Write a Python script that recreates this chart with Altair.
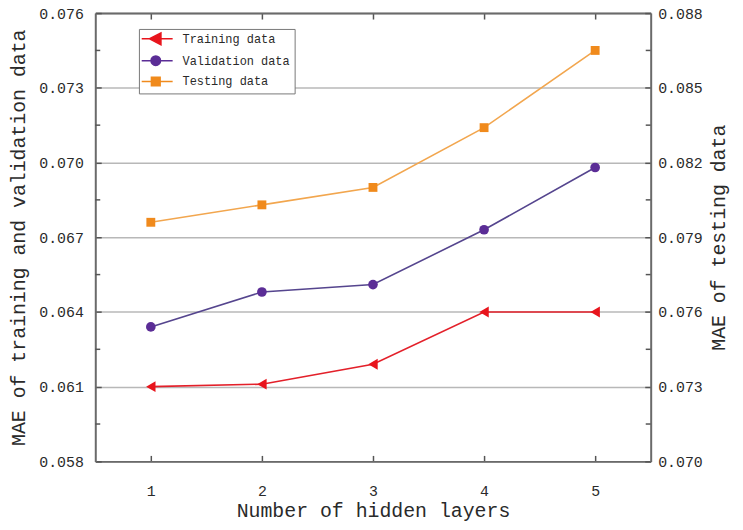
import altair as alt
import pandas as pd

# ---- data ----
hidden_layers = [1, 2, 3, 4, 5]
training = [0.0610, 0.0611, 0.0619, 0.0640, 0.0640]
validation = [0.0634, 0.0648, 0.0651, 0.0673, 0.0698]
testing = [0.0796, 0.0803, 0.0810, 0.0834, 0.0865]
series_names = ["Training data", "Validation data", "Testing data"]
left_ticks = [0.058, 0.061, 0.064, 0.067, 0.070, 0.073, 0.076]
right_ticks = [0.070, 0.073, 0.076, 0.079, 0.082, 0.085, 0.088]
minor_ticks = [0.0595, 0.0625, 0.0655, 0.0685, 0.0715, 0.0745]
x_ticks = [1, 2, 3, 4, 5]

# ---- styles ----
marker_colors = ["#e8141c", "#5b2d96", "#f08a1c"]
line_colors = ["#e3202a", "#55458e", "#f2a64e"]
W, H = 560, 452
FONT = "Liberation Mono"
AX = "#6a6a6a"
TICK = "#555555"
TXT = "#2a2a2a"

df_train = pd.DataFrame({"layers": hidden_layers, "mae": training})
df_val = pd.DataFrame({"layers": hidden_layers, "mae": validation})
df_test = pd.DataFrame({"layers": hidden_layers, "mae": testing})
df_minor = pd.DataFrame({"v": minor_ticks})
df_leg = pd.DataFrame({"series": series_names})

common_axis = dict(
    domainColor=AX, domainWidth=2, tickColor=TICK, tickWidth=1.5,
    tickSize=alt.ExprRef(expr="-6"),
    labelFont=FONT, labelFontSize=15, labelColor=TXT,
    titleFont=FONT, titleFontSize=20, titleColor=TXT, titleFontWeight="normal",
)

xscale = alt.Scale(domain=[0.5, 5.5], nice=False, zero=False)
x_bottom = alt.X("layers:Q", scale=xscale,
                 axis=alt.Axis(orient="bottom", values=x_ticks, format="d", grid=False,
                               title="Number of hidden layers", labelPadding=28,
                               titlePadding=3, **common_axis))
x_top = alt.X("layers:Q", scale=xscale,
              axis=alt.Axis(orient="top", values=x_ticks, grid=False, labels=False,
                            title=None, **common_axis))

lscale = alt.Scale(domain=[0.058, 0.076], nice=False, zero=False)
rscale = alt.Scale(domain=[0.070, 0.088], nice=False, zero=False)
left_axis = alt.Axis(orient="left", values=left_ticks, format=".3f", grid=True,
                     gridColor="#b8b8b8", gridWidth=1.5,
                     title="MAE of training and validation data",
                     labelPadding=18, titlePadding=10, **common_axis)
right_axis = alt.Axis(orient="right", values=right_ticks, format=".3f", grid=False,
                      title="MAE of testing data", titleAngle=270,
                      titleX=68, titleY=H / 2, titleAlign="center", titleBaseline="middle",
                      labelPadding=13, **common_axis)

y_left = alt.Y("mae:Q", scale=lscale, axis=left_axis)
y_right = alt.Y("mae:Q", scale=rscale, axis=right_axis)


def series(df, x, y, i, shape, size):
    line = alt.Chart(df).mark_line(color=line_colors[i], strokeWidth=1.6).encode(x=x, y=y)
    pts = alt.Chart(df).mark_point(filled=True, opacity=1, color=marker_colors[i],
                                   shape=shape, size=size).encode(x=x, y=y)
    return [line, pts]


minor_l = alt.Chart(df_minor).mark_rule(color=TICK, strokeWidth=1.5).encode(
    y=alt.Y("v:Q", scale=lscale, axis=left_axis), x=alt.value(0), x2=alt.value(5))
minor_r = alt.Chart(df_minor).mark_rule(color=TICK, strokeWidth=1.5).encode(
    y=alt.Y("v:Q", scale=lscale, axis=left_axis), x=alt.value(W - 5), x2=alt.value(W))

left = alt.layer(
    *series(df_train, x_bottom, y_left, 0, "triangle-left", 120),
    *series(df_val, x_bottom, y_left, 1, "circle", 95),
    minor_l, minor_r,
)
right = alt.layer(*series(df_test, x_top, y_right, 2, "square", 80))

# legend symbols: a line with the marker on it (custom paths)
c = 1.75
leg_paths = [
    f"M-1.8,0H6M{c+1.3},-1.5L{c-1.6},0L{c+1.3},1.5Z",
    f"M-1.8,0H6M{c-1.2},0A1.2,1.2 0 1,0 {c+1.2},0A1.2,1.2 0 1,0 {c-1.2},0Z",
    f"M-1.8,0H6M{c-1.1},-1.1H{c+1.1}V1.1H{c-1.1}Z",
]
leg = alt.Legend(title=None, orient="none", legendX=44, legendY=16, padding=4,
                 strokeColor="#777", fillColor="white", symbolSize=64,
                 symbolStrokeWidth=1.5, labelFont=FONT, labelFontSize=12,
                 labelColor=TXT, labelOffset=28, rowPadding=5)
legend_layer = alt.Chart(df_leg).transform_filter("false").mark_point(
    filled=True, opacity=1, strokeWidth=1.5).encode(
    fill=alt.Fill("series:N", scale=alt.Scale(domain=series_names, range=marker_colors), legend=leg),
    stroke=alt.Stroke("series:N", scale=alt.Scale(domain=series_names, range=marker_colors), legend=leg),
    shape=alt.Shape("series:N", scale=alt.Scale(domain=series_names, range=leg_paths), legend=leg),
)

chart = alt.layer(left, right, legend_layer).resolve_scale(
    y="independent"
).resolve_axis(x="independent", y="independent").properties(
    width=W, height=H,
    autosize=alt.AutoSizeParams(type="none"),
    padding={"left": 88, "top": 3, "right": 85, "bottom": 59},
).configure_view(stroke=None).configure(background="white")

chart.save("out.html", embed_options={"renderer": "svg", "actions": False})
